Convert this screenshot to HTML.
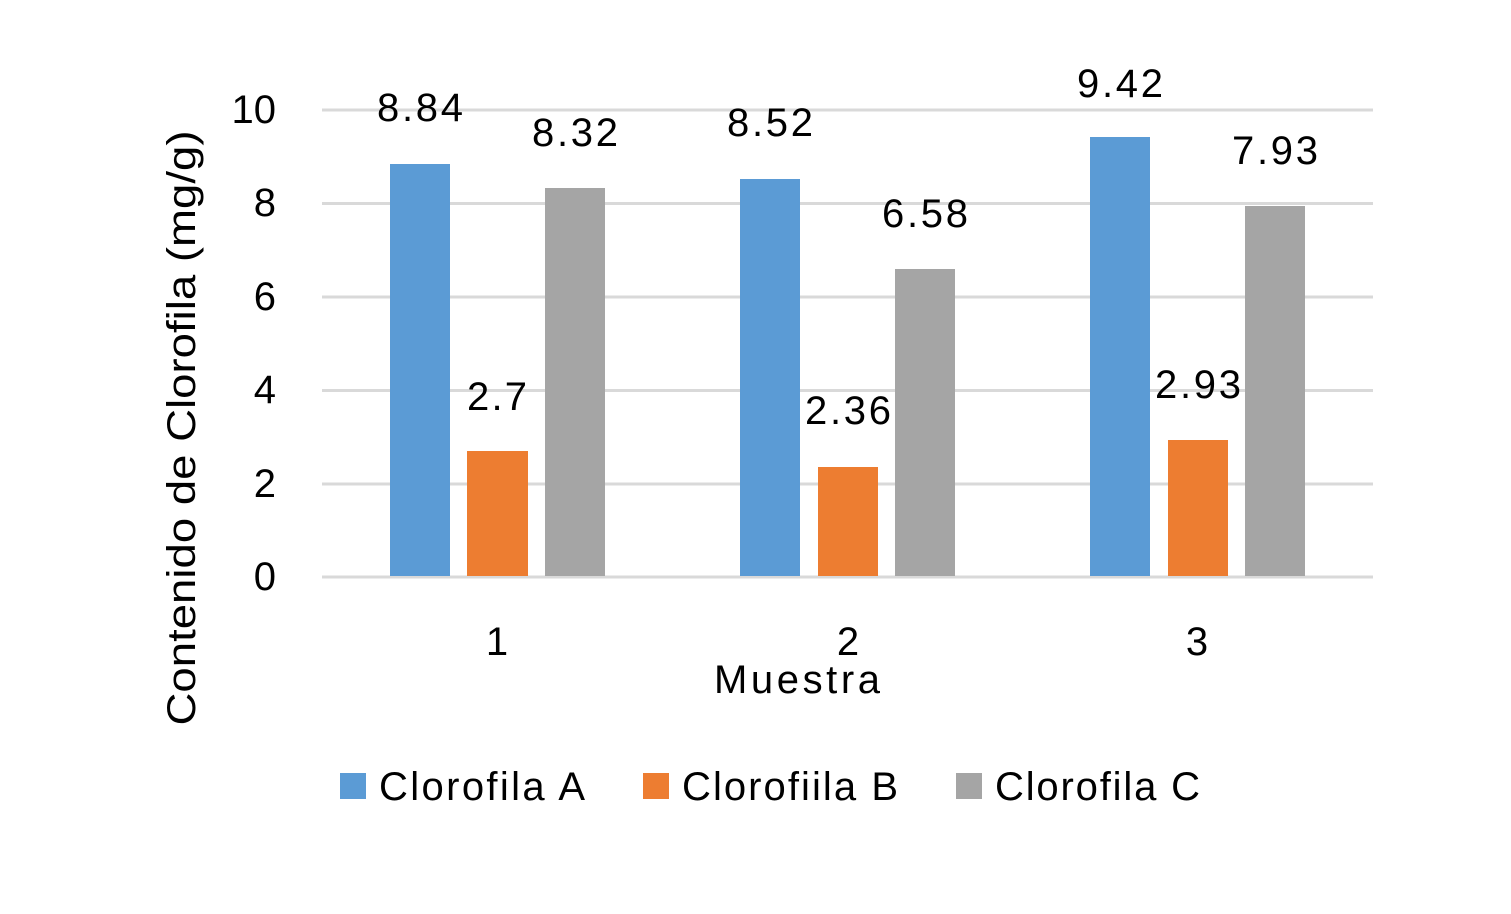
<!DOCTYPE html>
<html><head><meta charset="utf-8"><style>html,body{margin:0;padding:0;background:#fff}</style></head><body>
<svg width="1511" height="909" xmlns="http://www.w3.org/2000/svg" font-family="Liberation Sans, DejaVu Sans, sans-serif" fill="#000">
<rect width="1511" height="909" fill="#fff"/>
<g stroke="#d9d9d9" stroke-width="3">
<line x1="322" x2="1373" y1="110" y2="110"/>
<line x1="322" x2="1373" y1="203.5" y2="203.5"/>
<line x1="322" x2="1373" y1="297" y2="297"/>
<line x1="322" x2="1373" y1="390.5" y2="390.5"/>
<line x1="322" x2="1373" y1="484" y2="484"/>
<line x1="322" x2="1373" y1="577" y2="577"/>
</g>
<g fill="#5b9bd5">
<rect x="390" y="164" width="60" height="412"/>
<rect x="740" y="179" width="60" height="397"/>
<rect x="1090" y="137" width="60" height="439"/>
</g>
<g fill="#ed7d31">
<rect x="467" y="451" width="61" height="125"/>
<rect x="818" y="467" width="60" height="109"/>
<rect x="1168" y="440" width="60" height="136"/>
</g>
<g fill="#a5a5a5">
<rect x="545" y="188" width="60" height="388"/>
<rect x="895" y="269" width="60" height="307"/>
<rect x="1245" y="206" width="60" height="370"/>
</g>
<g font-size="40" text-anchor="middle" dominant-baseline="central" lengthAdjust="spacingAndGlyphs">
<text x="420" y="108" textLength="86">8.84</text>
<text x="497" y="397" textLength="60">2.7</text>
<text x="575" y="133" textLength="86">8.32</text>
<text x="770" y="123" textLength="86">8.52</text>
<text x="848" y="411" textLength="86">2.36</text>
<text x="925" y="214" textLength="86">6.58</text>
<text x="1120" y="84" textLength="86">9.42</text>
<text x="1198" y="385" textLength="86">2.93</text>
<text x="1275" y="151" textLength="86">7.93</text>
<text x="497" y="642">1</text>
<text x="848" y="642">2</text>
<text x="1197" y="642">3</text>
<text x="797" y="680" textLength="166">Muestra</text>
</g>
<g font-size="40" text-anchor="end" dominant-baseline="central">
<text x="276" y="110">10</text>
<text x="276" y="203">8</text>
<text x="276" y="297">6</text>
<text x="276" y="390">4</text>
<text x="276" y="484">2</text>
<text x="276" y="577">0</text>
</g>
<text font-size="40" text-anchor="middle" dominant-baseline="central" textLength="595" lengthAdjust="spacingAndGlyphs" transform="translate(182,428) rotate(-90)">Contenido de Clorofila (mg/g)</text>
<rect x="340" y="773" width="26" height="26" fill="#5b9bd5"/>
<rect x="643" y="773" width="26" height="26" fill="#ed7d31"/>
<rect x="956" y="773" width="26" height="26" fill="#a5a5a5"/>
<g font-size="40" dominant-baseline="central" lengthAdjust="spacingAndGlyphs">
<text x="379" y="787" textLength="206">Clorofila A</text>
<text x="682" y="787" textLength="216">Clorofiila B</text>
<text x="995" y="787" textLength="205">Clorofila C</text>
</g>
</svg>
</body></html>
